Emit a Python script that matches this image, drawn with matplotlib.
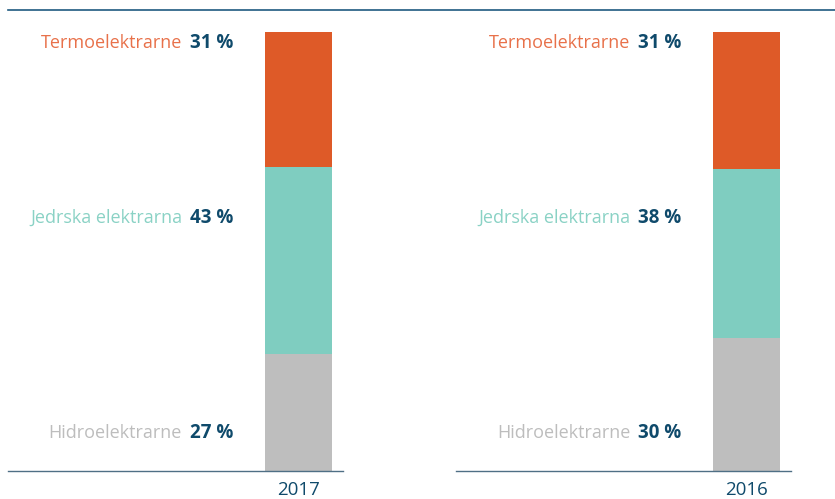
import matplotlib.pyplot as plt
from matplotlib.lines import Line2D

# Data
years = ['2017', '2016']
categories = ['Hidroelektrarne', 'Jedrska elektrarna', 'Termoelektrarne']
shares = {
    '2017': [27, 43, 31],
    '2016': [30, 38, 31],
}

bar_colors = ['#bebebe', '#7fcdc0', '#de5a28']
text_colors = ['#bdbdbd', '#8ad2c5', '#e8714a']
navy = '#0f4a6b'
label_y = [0.087, 0.576, 0.975]  # fixed label rows (axes fraction)

plt.rcParams['font.family'] = ['Open Sans', 'DejaVu Sans']

fig = plt.figure(figsize=(8.35, 4.99), dpi=100)

# top rule across the figure
fig.add_artist(Line2D([8 / 835, 1.0], [1 - 10 / 499, 1 - 10 / 499],
                      color='#1f5a80', linewidth=1.2))

lefts = [8 / 835, 456 / 835]
for year, left in zip(years, lefts):
    ax = fig.add_axes([left, 28 / 499, 335 / 835, 439 / 499])
    vals = shares[year]

    # stacked bar
    bottom = 0
    for v, c in zip(vals, bar_colors):
        ax.bar(0, v, width=1.0, bottom=bottom, color=c, linewidth=0)
        bottom += v

    ax.set_xlim(-4.336, 0.664)
    ax.set_ylim(0, sum(vals))

    # labels: name in segment colour + bold value
    for name, v, tc, ly in zip(categories, vals, text_colors, label_y):
        pct = ax.text(0.672, ly, f'{v} %', transform=ax.transAxes,
                      ha='right', va='center', fontsize=13.5,
                      fontweight='bold', color=navy)
        ax.annotate(name, xy=(0, 0.5), xycoords=pct, xytext=(-5.5, 0),
                    textcoords='offset points', ha='right', va='center',
                    fontsize=13, color=tc)

    for s in ['top', 'left', 'right']:
        ax.spines[s].set_visible(False)
    ax.spines['bottom'].set_color('#4f6f85')
    ax.spines['bottom'].set_linewidth(1.0)
    ax.set_yticks([])
    ax.set_xticks([0])
    ax.set_xticklabels([year], fontsize=13.5, color=navy)
    ax.tick_params(axis='x', length=0, pad=7)

fig.savefig('out.png', dpi=100)
